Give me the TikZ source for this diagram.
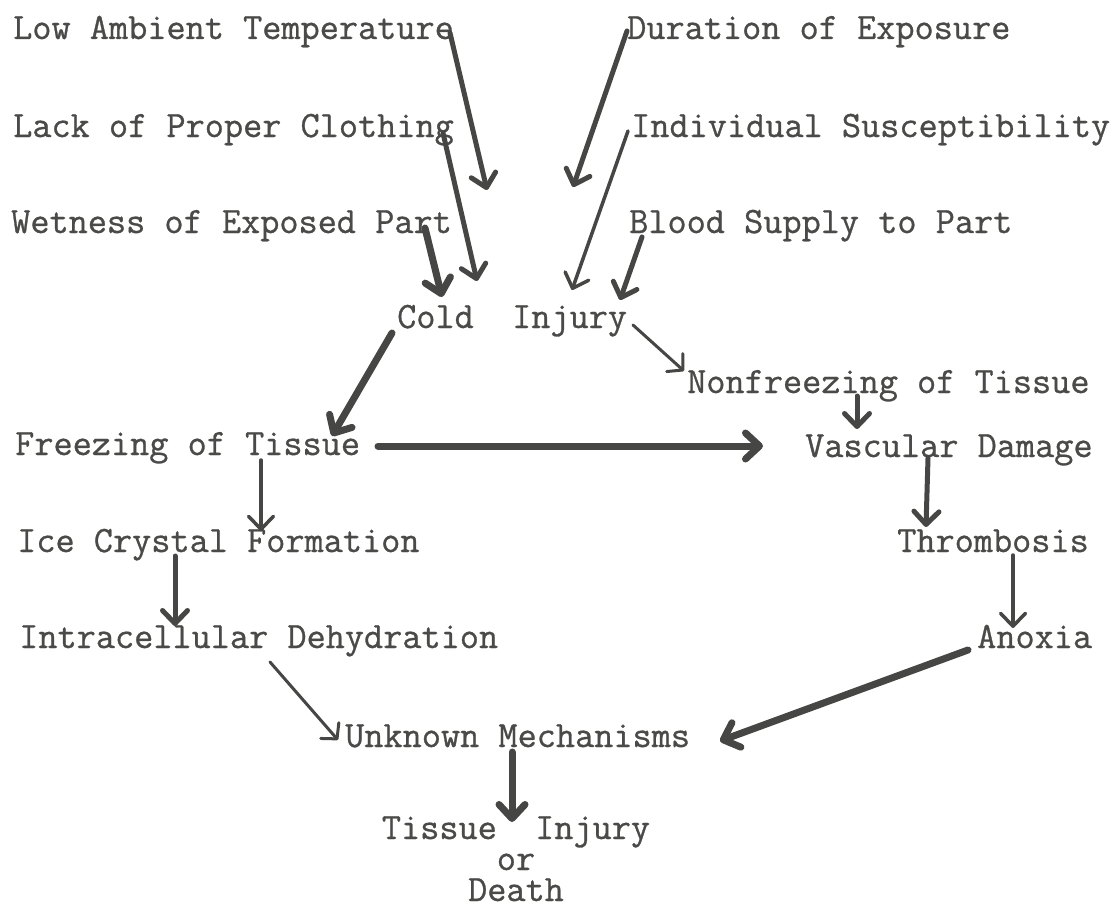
\documentclass[tikz,border=0pt]{standalone}
\usepackage{fontspec}
\setmonofont{Latin Modern Mono}[FakeBold=0.8]
\usetikzlibrary{arrows.meta,calc}
\definecolor{txt}{RGB}{74,74,72}
\definecolor{ink}{RGB}{70,70,68}
\begin{document}
\begin{tikzpicture}[x=1pt,y=-1pt,
  lbl/.style={font=\ttfamily\fontsize{37.2}{36}\selectfont, text=txt, inner sep=0pt, anchor=base west},
  heavy/.style={draw=ink, line width=7pt, line cap=round, -{Straight Barb[length=14pt,width=26pt,round]}},
  medium/.style={draw=ink, line width=5pt, line cap=round, -{Straight Barb[length=13pt,width=25pt,round]}},
  light/.style={draw=ink, line width=3.5pt, line cap=round, -{Straight Barb[length=13pt,width=25pt,round]}},
  hook/.style={draw=ink, line width=3pt, line cap=round, -{Straight Barb[length=11pt,width=24pt,round]}}]
\useasboundingbox (0,0) rectangle (1112,907);
\fill[white] (0,0) rectangle (1112,907);

% labels
\node[lbl] (lat) at (13,39) {Low Ambient Temperature};
\node[lbl] (dur) at (627,39) {Duration of Exposure};
\node[lbl] (lpc) at (13,137) {Lack of Proper Clothing};
\node[lbl] (ind) at (631,137) {Individual Susceptibility};
\node[lbl] (wet) at (11,233) {Wetness of Exposed Part};
\node[lbl] (bld) at (629,233) {Blood Supply to Part};
\node[lbl] (ci)  at (397,328) {Cold\ \ Injury};
\node[lbl] (nft) at (687,393) {Nonfreezing of Tissue};
\node[lbl] (fot) at (15,455) {Freezing of Tissue};
\node[lbl] (vd)  at (805,457) {Vascular Damage};
\node[lbl] (icf) at (17,552) {Ice Crystal Formation};
\node[lbl] (thr) at (897,552) {Thrombosis};
\node[lbl] (idh) at (19,648) {Intracellular Dehydration};
\node[lbl] (anx) at (977,648) {Anoxia};
\node[lbl] (um)  at (345,747) {Unknown Mechanisms};
\node[lbl, anchor=base, align=center, font=\ttfamily\fontsize{37.2}{31}\selectfont] (tid) at (516,901) {Tissue\ \ Injury\\or\\Death};

% connectors
\draw[medium] ($(lat.base west)+(437,-6)$) -- ($(ci.base west)+(90,-138)$);
\draw[medium] ($(lpc.base west)+(430,-4)$) -- ($(ci.base west)+(80,-47)$);
\draw[heavy]  ($(wet.base west)+(414,-5)$) -- ($(ci.base west)+(45,-31)$);
\draw[medium] ($(dur.base west)+(0,-8)$) -- ($(ci.base west)+(176,-141)$);
\draw[light]  ($(ind.base west)+(-3,-6)$) -- ($(ci.base west)+(175,-38)$);
\draw[medium] ($(bld.base west)+(13,4)$) -- ($(ci.base west)+(223,-28)$);
\draw[hook]   ($(ci.base west)+(236,-3)$) -- ($(nft.base west)+(-3,-22)$);
\draw[medium] ($(nft.base west)+(170,3)$) -- ($(vd.base west)+(52,-28)$);
\draw[heavy]  ($(ci.base west)+(-5,5)$) -- ($(fot.base west)+(317,-19)$);
\draw[heavy]  ($(fot.base west)+(363,-9)$) -- ($(vd.base west)+(-42,-11)$);
\draw[light]  ($(fot.base west)+(246,5)$) -- ($(icf.base west)+(244,-21)$);
\draw[medium] ($(vd.base west)+(123,1)$) -- ($(thr.base west)+(29,-25)$);
\draw[medium] ($(icf.base west)+(158,4)$) -- ($(idh.base west)+(156,-22)$);
\draw[light]  ($(thr.base west)+(116,3)$) -- ($(anx.base west)+(36,-20)$);
\draw[hook]   ($(idh.base west)+(251,14)$) -- ($(um.base west)+(-7,-7)$);
\draw[heavy]  ($(anx.base west)+(-9,2)$) -- ($(um.base west)+(375,-6)$);
\draw[heavy]  ($(um.base west)+(167,5)$) -- ($(tid.base)+(-4,-79)$);
\end{tikzpicture}
\end{document}
